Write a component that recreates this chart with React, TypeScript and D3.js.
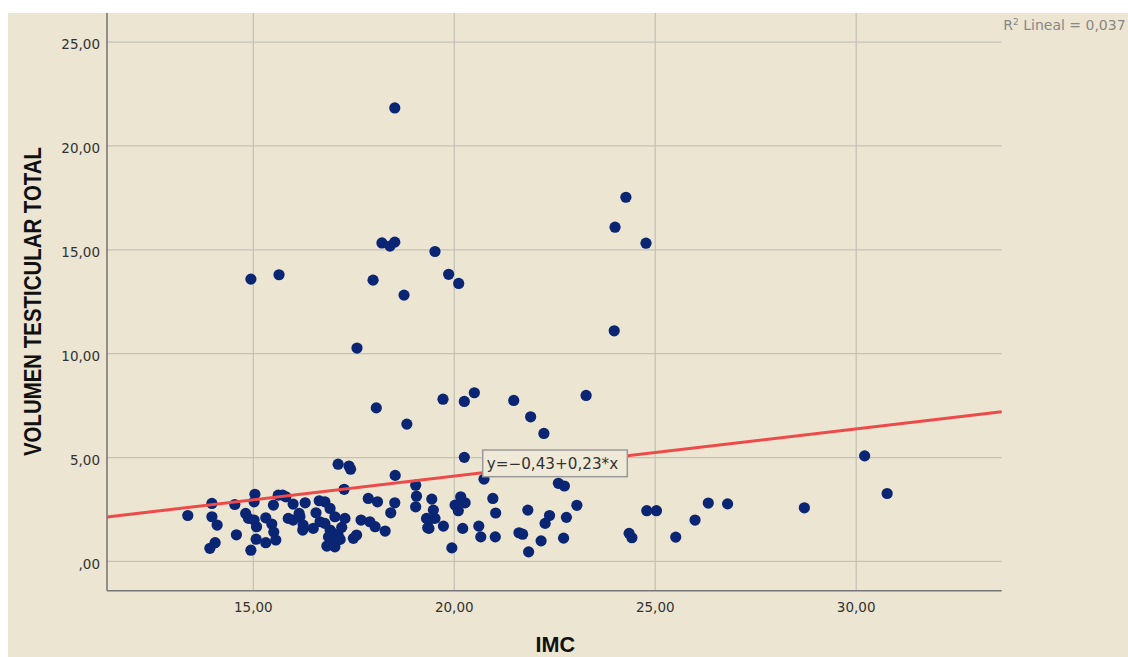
import React from "react";
import * as d3 from "d3";

// IMC (x) and VOLUMEN TESTICULAR TOTAL (y)
const imc: number[] = [
  18.52, 24.27, 24.0, 24.77, 14.94, 15.64, 18.2, 18.4, 18.52, 19.52, 19.86, 20.11, 17.98, 18.75, 17.58, 23.98,
  18.06, 19.72, 20.25, 20.5, 21.48, 21.9, 22.23, 23.28, 18.82, 20.25, 30.21, 30.77, 28.71, 26.8, 26.32, 25.99,
  25.51, 24.79, 25.03, 24.35, 24.42,
  20.74, 22.59, 22.74, 23.05, 19.44, 20.16, 20.02, 20.27, 20.1, 20.96, 21.03, 21.83, 22.37, 22.26, 22.79, 19.48,
  19.37, 19.52, 19.37, 19.73, 20.21, 20.61, 20.66, 21.02, 21.61, 21.7, 22.16, 22.72, 19.94, 21.85,
  17.11, 17.38, 17.42, 18.53, 17.26, 19.04, 19.06, 19.04, 16.29, 16.64, 16.78, 16.56, 16.91, 17.03, 16.16, 16.24,
  16.23, 16.49, 16.66, 16.78, 16.91, 16.99, 17.11, 17.2, 17.28, 16.87, 16.95, 16.83, 17.03, 17.16, 17.49, 17.57,
  17.68, 17.9, 18.03, 18.28, 17.86, 18.09, 18.52, 18.42, 19.31, 19.34,
  13.37, 13.97, 13.97, 14.1, 14.58, 14.05, 13.92, 14.54, 15.04, 15.02, 14.81, 14.88, 15.02, 15.08, 15.07, 14.94,
  15.31, 15.46, 15.51, 15.56, 15.31, 15.5, 15.62, 15.73, 15.81, 15.99, 15.87, 15.99, 16.14,
];
const volumen: number[] = [
  21.83, 17.53, 16.09, 15.32, 13.59, 13.8, 15.33, 15.18, 15.37, 14.92, 13.82, 13.38, 13.54, 12.82, 10.27, 11.1,
  7.39, 7.81, 7.7, 8.12, 7.75, 6.96, 6.16, 7.99, 6.61, 5.01, 5.08, 3.27, 2.58, 2.77, 2.81, 1.99,
  1.17, 2.44, 2.44, 1.35, 1.14,
  3.96, 3.76, 3.63, 2.7, 3.0, 3.11, 2.71, 2.82, 2.44, 3.03, 2.33, 2.47, 2.21, 1.83, 2.12, 2.47,
  1.99, 2.07, 1.59, 1.7, 1.59, 1.7, 1.18, 1.18, 1.38, 1.31, 0.99, 1.12, 0.65, 0.46,
  4.68, 4.59, 4.44, 4.14, 3.47, 3.67, 3.14, 2.63, 2.82, 2.92, 2.87, 2.34, 2.55, 2.15, 2.15, 1.75,
  1.51, 1.59, 1.91, 1.83, 1.51, 1.35, 1.27, 1.64, 2.07, 1.18, 0.87, 0.74, 0.7, 1.06, 1.11, 1.27,
  1.99, 1.91, 1.67, 1.46, 3.03, 2.87, 2.82, 2.34, 2.07, 1.62,
  2.21, 2.79, 2.15, 1.75, 1.28, 0.9, 0.63, 2.74, 3.23, 2.87, 2.31, 2.07, 1.99, 1.67, 1.07, 0.54,
  2.1, 1.8, 1.41, 1.03, 0.9, 2.71, 3.19, 3.19, 3.11, 2.76, 2.07, 1.99, 2.31,
];

const xTicks: number[] = [15, 20, 25, 30];
const yTicks: number[] = [0, 5, 10, 15, 20, 25];
// fitted line (unrounded estimate of y = -0,43 + 0,23*x)
const intercept = -0.445;
const slope = 0.2275;
const r2Label = "0,037";
const equationLabel = "y=\u22120,43+0,23*x";

const fmt = (v: number) => {
  const s = v.toFixed(2).replace(".", ",");
  return s.startsWith("0,") ? s.slice(1) : s;
};

export default function App() {
  const W = 1128, H = 657;
  const left = 107, right = 1001.7, top = 13, bottom = 590.7;
  const x = d3.scaleLinear().domain([11.36, 33.62]).range([left, right]);
  const y = d3.scaleLinear().domain([-1.41, 26.4]).range([bottom, top]);
  const bg = "#ebe5d1";
  const grid = "#c5c2b8";
  const tickFont = "'DejaVu Sans', sans-serif";
  const [d0, d1] = x.domain();
  const line = d3.line<number>().x((v) => x(v)).y((v) => y(intercept + slope * v));

  return (
    <svg width={W} height={H} style={{ position: "absolute", left: 0, top: 0, background: "#fff" }}>
      <rect x={8} y={13} width={W - 8} height={H - 13} fill={bg} />
      {yTicks.map((t) => (
        <line key={"gy" + t} x1={left} x2={right} y1={y(t)} y2={y(t)} stroke={grid} strokeWidth={1.3} />
      ))}
      {xTicks.map((t) => (
        <line key={"gx" + t} x1={x(t)} x2={x(t)} y1={top} y2={bottom} stroke={grid} strokeWidth={1.3} />
      ))}
      <line x1={left} x2={left} y1={top} y2={bottom} stroke="#555" strokeWidth={1.2} />
      <line x1={left} x2={right} y1={bottom} y2={bottom} stroke="#777" strokeWidth={1.4} />
      {yTicks.map((t) => (
        <text key={"ly" + t} x={100} y={y(t) + 7.3} textAnchor="end" fontFamily={tickFont} fontSize={13.5} fill="#333">
          {fmt(t)}
        </text>
      ))}
      {xTicks.map((t) => (
        <text key={"lx" + t} x={x(t)} y={612} textAnchor="middle" fontFamily={tickFont} fontSize={13.5} fill="#333">
          {fmt(t)}
        </text>
      ))}
      <text
        transform={`translate(41,301.5) rotate(-90)`}
        textAnchor="middle"
        fontFamily="'Liberation Sans', Arial, sans-serif"
        fontWeight="bold"
        fontSize={23}
        textLength={309}
        lengthAdjust="spacingAndGlyphs"
        fill="#111"
      >
        VOLUMEN TESTICULAR TOTAL
      </text>
      <text
        x={555.3}
        y={651.5}
        textAnchor="middle"
        fontFamily="'Liberation Sans', Arial, sans-serif"
        fontWeight="bold"
        fontSize={22.5}
        textLength={39.5}
        lengthAdjust="spacingAndGlyphs"
        fill="#111"
      >
        IMC
      </text>
      <text x={1003.3} y={30} fontFamily={tickFont} fontSize={14} fill="#888">
        R<tspan dy={-5} fontSize={9}>2</tspan>
        <tspan dy={5}> Lineal = {r2Label}</tspan>
      </text>
      {imc.map((v, i) => (
        <circle key={i} cx={x(v)} cy={y(volumen[i])} r={5.6} fill="#0a2573" />
      ))}
      <path d={line([d0, d1]) ?? ""} fill="none" stroke="#ee4a4a" strokeWidth={3} />
      <g>
        <rect x={482.7} y={450} width={144.6} height={26.7} fill="#efe9d8" stroke="#9a9a9a" strokeWidth={1.5} />
        <text
          x={486.7}
          y={469}
          fontFamily={tickFont}
          fontSize={15}
          textLength={131.5}
          lengthAdjust="spacingAndGlyphs"
          fill="#333"
        >
          {equationLabel}
        </text>
      </g>
    </svg>
  );
}
